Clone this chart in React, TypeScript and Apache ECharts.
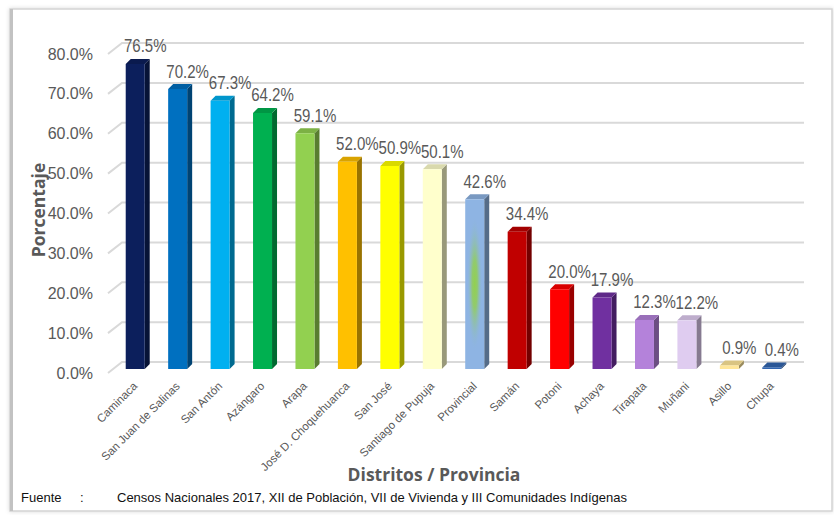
import React, { useEffect, useRef } from "react";
import * as echarts from "echarts";

const categories = [
  "Caminaca",
  "San Juan de Salinas",
  "San Antón",
  "Azángaro",
  "Arapa",
  "José D. Choquehuanca",
  "San José",
  "Santiago de Pupuja",
  "Provincial",
  "Samán",
  "Potoni",
  "Achaya",
  "Tirapata",
  "Muñani",
  "Asillo",
  "Chupa",
];
const values = [76.5, 70.2, 67.3, 64.2, 59.1, 52.0, 50.9, 50.1, 42.6, 34.4, 20.0, 17.9, 12.3, 12.2, 0.9, 0.4];
const barColors = [
  "#0C1F5C",
  "#0070C0",
  "#00B0F0",
  "#00B050",
  "#92D050",
  "#FFC000",
  "#FFFF00",
  "#FFFFCC",
  "#8EB4E3",
  "#C00000",
  "#FF0000",
  "#7030A0",
  "#B482DA",
  "#DFCCF0",
  "#FFE699",
  "#3266B0",
];
const yTicks = [0, 10, 20, 30, 40, 50, 60, 70, 80];
const yAxisTitle = "Porcentaje";
const xAxisTitle = "Distritos / Provincia";
const sourceLabel = "Fuente";
const sourceText = "Censos Nacionales 2017, XII de Población, VII de Vivienda y III Comunidades Indígenas";
const glowCategory = "Provincial";

const NARROW = '"Liberation Sans Narrow", "Arial Narrow", "Liberation Sans", Arial, sans-serif';
const BOLD = '"Open Sans", "Noto Sans", sans-serif';
const TEXT = "#595959";

function shade(hex: string, f: number): string {
  const n = parseInt(hex.slice(1), 16);
  const r = Math.round(((n >> 16) & 255) * f);
  const g = Math.round(((n >> 8) & 255) * f);
  const b = Math.round((n & 255) * f);
  return "rgb(" + r + "," + g + "," + b + ")";
}

export default function App() {
  const ref = useRef<HTMLDivElement>(null);
  useEffect(() => {
    if (!ref.current) return;
    const chart = echarts.init(ref.current, undefined, { renderer: "svg" });
    const W = 19;
    const DX = 5;
    const DY = 5;
    const LIFT = 4;

    const option: any = {
      animation: false,
      backgroundColor: "#ffffff",
      grid: { left: 114, right: 41, top: 54, bottom: 142, containLabel: false },
      xAxis: {
        type: "category",
        data: categories,
        boundaryGap: true,
        axisLine: { show: false },
        axisTick: { show: false },
        axisLabel: {
          rotate: 45,
          interval: 0,
          margin: 11,
          color: TEXT,
          fontSize: 11.5,
          fontFamily: NARROW,
        },
      },
      yAxis: {
        type: "value",
        min: 0,
        max: 80,
        interval: 10,
        axisLine: { show: false },
        axisTick: { show: false },
        splitLine: { show: false },
        axisLabel: {
          margin: 21,
          color: TEXT,
          fontSize: 16,
          fontFamily: NARROW,
          formatter: (v: number) => v.toFixed(1) + "%",
        },
      },
      graphic: [
        {
          type: "rect",
          z: -10,
          silent: true,
          shape: { x: 10, y: 9, width: 822, height: 502 },
          style: {
            fill: "#ffffff",
            stroke: "#d4d4d4",
            lineWidth: 1.5,
            shadowBlur: 4,
            shadowColor: "rgba(0,0,0,0.15)",
          },
        },
        {
          type: "rect",
          z: -9,
          silent: true,
          shape: { x: 10, y: 9, width: 3, height: 502 },
          style: { fill: "#c2c2c2" },
        },
        {
          type: "text",
          x: 38,
          y: 210,
          rotation: Math.PI / 2,
          style: {
            text: yAxisTitle,
            font: "bold 17.5px " + BOLD,
            fill: TEXT,
            textAlign: "center",
            textVerticalAlign: "middle",
            verticalAlign: "middle",
          },
        },
        {
          type: "text",
          x: 434,
          y: 474,
          style: {
            text: xAxisTitle,
            font: "bold 17.5px " + BOLD,
            fill: TEXT,
            textAlign: "center",
            textVerticalAlign: "middle",
            verticalAlign: "middle",
          },
        },
        {
          type: "text",
          x: 21,
          y: 497,
          style: {
            text: sourceLabel,
            font: "13px " + NARROW,
            fill: "#111111",
            textAlign: "left",
            textVerticalAlign: "middle",
            verticalAlign: "middle",
          },
        },
        {
          type: "text",
          x: 80,
          y: 497,
          style: {
            text: ":",
            font: "13px " + NARROW,
            fill: "#111111",
            textAlign: "left",
            textVerticalAlign: "middle",
            verticalAlign: "middle",
          },
        },
        {
          type: "text",
          x: 117,
          y: 497,
          style: {
            text: sourceText,
            font: "13px " + NARROW,
            fill: "#111111",
            textAlign: "left",
            textVerticalAlign: "middle",
            verticalAlign: "middle",
          },
        },
      ],
      series: [
        {
          type: "custom",
          name: "grid",
          z: 1,
          silent: true,
          clip: false,
          data: yTicks.map((t) => [0, t]),
          encode: { x: 0, y: 1 },
          renderItem: (params: any, api: any) => {
            const v = api.value(1);
            const y = api.coord([0, v])[1];
            const cs = params.coordSys;
            const L = cs.x;
            const R = cs.x + cs.width;
            return {
              type: "polyline",
              shape: {
                points: [
                  [L - 6, y],
                  [L + 8, y - 11],
                  [R + 11, y - 11],
                ],
              },
              style: { stroke: "#d9d9d9", lineWidth: 2, fill: null },
            };
          },
        },
        {
          type: "custom",
          name: "Porcentaje",
          z: 5,
          clip: false,
          data: values.map((v, i) => [i, v]),
          encode: { x: 0, y: 1 },
          renderItem: (params: any, api: any) => {
            const i = api.value(0);
            const v = api.value(1);
            const top = api.coord([i, v]);
            const base = api.coord([i, 0]);
            const cx = top[0];
            const x0 = cx - W / 2;
            const yT = top[1] - LIFT;
            const yB = base[1] - LIFT;
            const col = barColors[i];
            const children: any[] = [
              {
                type: "polygon",
                shape: {
                  points: [
                    [x0 + W, yT],
                    [x0 + W + DX, yT - DY],
                    [x0 + W + DX, yB - DY],
                    [x0 + W, yB],
                  ],
                },
                style: { fill: shade(col, 0.6) },
              },
              {
                type: "polygon",
                shape: {
                  points: [
                    [x0, yT],
                    [x0 + DX, yT - DY],
                    [x0 + W + DX, yT - DY],
                    [x0 + W, yT],
                  ],
                },
                style: { fill: shade(col, 0.85) },
              },
              {
                type: "rect",
                shape: { x: x0, y: yT, width: W, height: Math.max(yB - yT, 0.5) },
                style: { fill: col },
              },
            ];
            if (categories[i] === glowCategory) {
              const h = yB - yT;
              const cy = yT + h / 2;
              children.push({
                type: "rect",
                shape: { x: x0 + 2, y: cy - h * 0.4, width: W - 4, height: h * 0.8 },
                style: {
                  fill: {
                    type: "radial",
                    x: 0.5,
                    y: 0.5,
                    r: 0.5,
                    colorStops: [
                      { offset: 0, color: "rgba(146,208,80,1)" },
                      { offset: 0.35, color: "rgba(146,208,80,0.8)" },
                      { offset: 1, color: "rgba(142,180,227,0)" },
                    ],
                  },
                },
              });
            }
            children.push({
              type: "text",
              x: cx + 10,
              y: yT - DY - 13,
              scaleX: 0.86,
              style: {
                text: v.toFixed(1) + "%",
                font: "17.5px " + NARROW,
                fill: TEXT,
                textAlign: "center",
                textVerticalAlign: "middle",
                verticalAlign: "middle",
              },
            });
            return { type: "group", children };
          },
        },
      ],
    };
    chart.setOption(option);
    return () => chart.dispose();
  }, []);
  return (
    <div
      ref={ref}
      style={{ position: "absolute", left: 0, top: 0, width: 834, height: 515 }}
    />
  );
}
